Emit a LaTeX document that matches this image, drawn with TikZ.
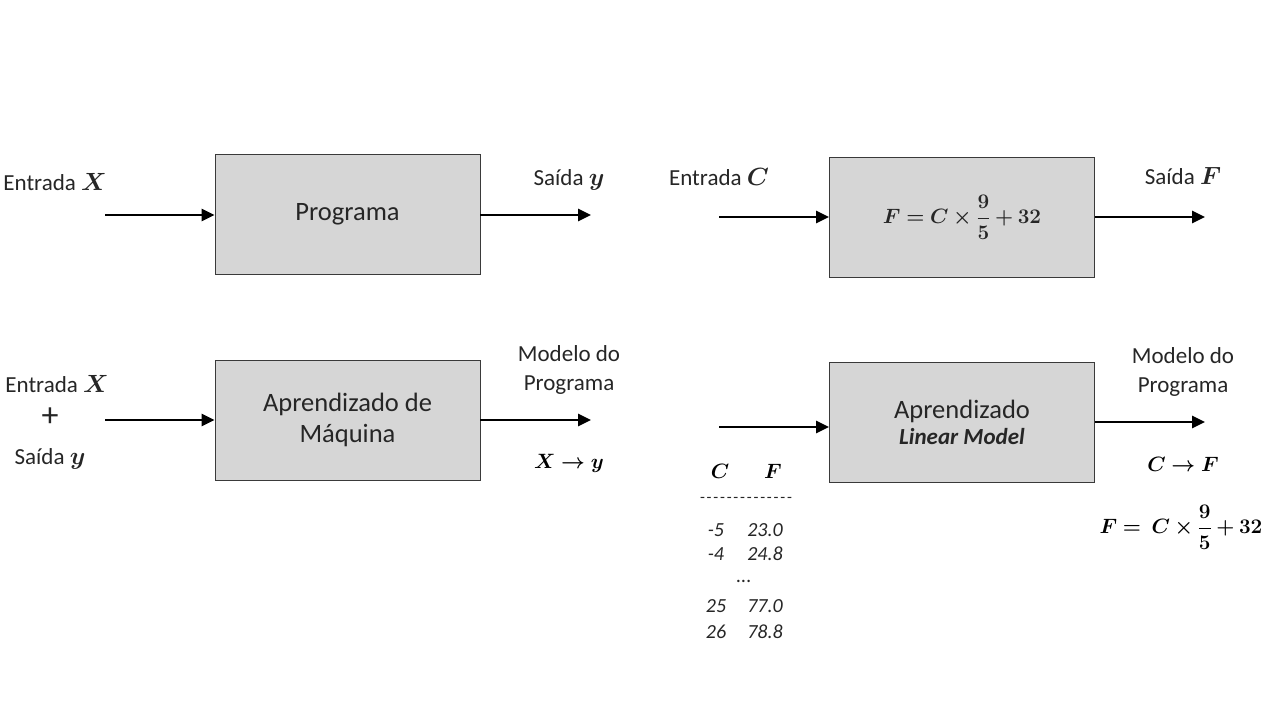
\documentclass[tikz,border=0pt]{standalone}
\usepackage{amsmath,bm}
\usepackage[no-math]{fontspec}
\setmainfont{Carlito}
\usetikzlibrary{arrows.meta}
\definecolor{boxfill}{HTML}{D6D6D6}
\definecolor{boxline}{HTML}{3A3A3A}
\definecolor{txt}{HTML}{262626}
\tikzset{
  procbox/.style={draw=boxline, line width=0.9pt, fill=boxfill, minimum width=265pt, minimum height=120pt, inner sep=0pt, align=center, font=\fontsize{26.5}{31}\selectfont, text=txt},
  flow/.style={line width=2.6pt, -{Triangle[length=13pt,width=12pt]}},
  lbl/.style={font=\fontsize{23}{29}\selectfont, text=txt, inner sep=0pt, align=center},
  tab/.style={font=\fontsize{20}{22}\selectfont\itshape, text=txt, inner sep=0pt},
  eq/.style={font=\fontsize{20.5}{23}\selectfont, inner sep=0pt}
}
\newcommand{\lm}[1]{{\fontsize{23}{25}\selectfont$\bm{#1}$}}
\newcommand{\hyph}{-\kern1.8pt}
\begin{document}
\begin{tikzpicture}[x=1pt,y=-1pt]
\useasboundingbox (0,0) rectangle (1280,720);
% top left
\node[procbox] (prog) at (347.5,214.5) {Programa};
\coordinate (inA) at (105,215);
\coordinate (outA) at (591,215);
\draw[flow] (inA) -- (prog.west |- inA);
\draw[flow] (prog.east |- outA) -- (outA);
\node[lbl] (entX) at (55,182) {Entrada \lm{X}};
\node[lbl] (saiY) at (569,180) {Saída \lm{y}};
% top right
\node[procbox, font=\fontsize{20.5}{23}\selectfont] (formula) at (962,217) {$\bm{F = C\times\dfrac{9}{5}+32}$};
\coordinate (inB) at (719,217);
\coordinate (outB) at (1205,217);
\draw[flow] (inB) -- (formula.west |- inB);
\draw[flow] (formula.east |- outB) -- (outB);
\node[lbl] (entC) at (719,177) {Entrada \lm{C}};
\node[lbl] (saiF) at (1183,176) {Saída \lm{F}};
% bottom left
\node[procbox] (ml) at (347.5,420) {Aprendizado de\\Máquina};
\coordinate (inC) at (105,420);
\coordinate (outC) at (591,420);
\draw[flow] (inC) -- (ml.west |- inC);
\draw[flow] (ml.east |- outC) -- (outC);
\node[lbl] (entX2) at (57,384) {Entrada \lm{X}};
\node[lbl, font=\fontsize{34}{34}\selectfont] (plus) at (50,417) {+};
\node[lbl] (saiY2) at (50,459) {Saída \lm{y}};
\node[lbl] (modA) at (569,370) {Modelo do\\Programa};
\node[eq] (xy) at (569,463) {$\bm{X\rightarrow y}$};
% bottom right
\node[procbox] (lin) at (962,422.5) {Aprendizado\\[-5pt]{\fontsize{23}{26}\selectfont\bfseries\itshape Linear Model}};
\coordinate (inD) at (719,427);
\coordinate (outD) at (1205,422);
\draw[flow] (inD) -- (lin.west |- inD);
\draw[flow] (lin.east |- outD) -- (outD);
\node[lbl] (modB) at (1183,372) {Modelo do\\Programa};
\node[eq] (cf) at (1183,464) {$\bm{C\rightarrow F}$};
\node[eq] (form2) at (1181,527) {$\bm{F =\ C\times\dfrac{9}{5}+32}$};
% table
\node[eq] (tC) at (720,471) {$\bm{C}$};
\node[eq] (tF) at (773,471) {$\bm{F}$};
\node[tab, font=\fontsize{16}{20}\selectfont] (dash) at (746,500) {\hyph\hyph\hyph\hyph\hyph\hyph\hyph\hyph\hyph\hyph\hyph\hyph\hyph-};
\node[tab] (c1) at (716,530) {-5};
\node[tab] (f1) at (765,530) {23.0};
\node[tab] (c2) at (716,554) {-4};
\node[tab] (f2) at (765,554) {24.8};
\node[tab] (dots) at (744,581) {...};
\node[tab] (c3) at (716,606) {25};
\node[tab] (f3) at (765,606) {77.0};
\node[tab] (c4) at (716,632) {26};
\node[tab] (f4) at (765,632) {78.8};
\end{tikzpicture}
\end{document}
